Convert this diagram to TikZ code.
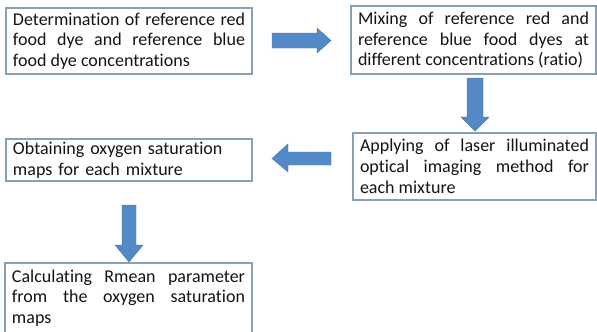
\documentclass[tikz,border=0pt]{standalone}
\usepackage{fontspec}
\setmainfont{Carlito}[RawFeature=-liga]
\usetikzlibrary{shadows}
\definecolor{boxline}{RGB}{135,160,185}
\definecolor{arrowfill}{RGB}{84,137,200}
\definecolor{arrowline}{RGB}{70,115,165}
\definecolor{txt}{RGB}{20,20,20}
\tikzset{
  box/.style={draw=boxline, line width=1.1bp, fill=white, rectangle,
    inner xsep=7bp, inner ysep=0bp, align=justify, text=txt,
    font=\fontsize{18bp}{20.7bp}\selectfont,
    execute at begin node={\hyphenpenalty=10000\exhyphenpenalty=10000\tolerance=9999\emergencystretch=3em\relax},
    drop shadow={opacity=0.22, shadow xshift=1.2bp, shadow yshift=-1.2bp}},
  blockarrow/.style={fill=arrowfill, draw=arrowline, line width=0.4bp, line join=miter}
}
\begin{document}
\begin{tikzpicture}[x=1bp,y=-1bp]
\useasboundingbox (0,0) rectangle (597,331);
\node[box, text width=232bp, minimum width=246bp, minimum height=66bp] (b1) at (129,41)
  {Determination of reference red food dye and reference blue food dye concentrations};
\node[box, text width=231bp, minimum width=245bp, minimum height=68bp] (b2) at (473.5,40)
  {Mixing of reference red and reference blue food dyes at different concentrations (ratio)};
\node[box, text width=229bp, minimum width=243bp, minimum height=67bp] (b3) at (474.5,166.5)
  {Applying of laser illuminated optical imaging method for each mixture};
\node[box, align=left, text width=232bp, minimum width=246bp, minimum height=42bp] (b4) at (129,160)
  {Obtaining oxygen saturation maps for each mixture};
\node[box, text width=233bp, minimum width=247bp, minimum height=70bp] (b5) at (128.5,298)
  {Calculating Rmean parameter from the oxygen saturation maps};
% right arrow b1 -> b2
\draw[blockarrow] (272,33) -- (317,33) -- (317,28) -- (331,40.5) -- (317,53) -- (317,48) -- (272,48) -- cycle;
% down arrow b2 -> b3
\draw[blockarrow] (467,78) -- (483,78) -- (483,117) -- (489,117) -- (475,131) -- (461,117) -- (467,117) -- cycle;
% left arrow b3 -> b4
\draw[blockarrow] (331,152) -- (288,152) -- (288,144) -- (272,158.5) -- (288,172) -- (288,165) -- (331,165) -- cycle;
% down arrow b4 -> b5
\draw[blockarrow] (122,205) -- (136,205) -- (136,245) -- (143,245) -- (129,262) -- (115,245) -- (122,245) -- cycle;
\end{tikzpicture}
\end{document}
